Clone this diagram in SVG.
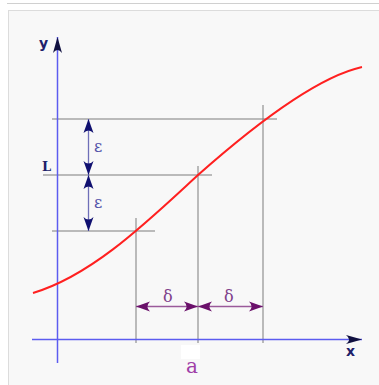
<svg xmlns="http://www.w3.org/2000/svg" width="379" height="385" viewBox="0 0 379 385">
<style>
.grid{stroke:#7c7c7c;stroke-width:1;fill:none}
.axis{stroke:#5c5cf0;stroke-width:1.5;fill:none}
.eps{stroke:#6f6fb8;stroke-width:1.3;fill:none}
.del{stroke:#9a5a9a;stroke-width:1.3;fill:none}
.lbl{font-family:"DejaVu Sans",sans-serif;font-weight:bold;fill:#20206a}
.greek{font-family:"DejaVu Serif","Liberation Serif",serif;font-size:16px}
</style>
<defs>
<marker id="hNavy" markerUnits="userSpaceOnUse" markerWidth="16" markerHeight="12" viewBox="-14 -6 16 12" refX="0" refY="0" orient="auto-start-reverse">
<path d="M0,0 L-14,-5 Q-9,0 -14,5 Z" fill="#101070"/>
</marker>
<marker id="hPurple" markerUnits="userSpaceOnUse" markerWidth="16" markerHeight="12" viewBox="-14 -6 16 12" refX="0" refY="0" orient="auto-start-reverse">
<path d="M0,0 L-14,-5 Q-9,0 -14,5 Z" fill="#6a106a"/>
</marker>
<marker id="hAxis" markerUnits="userSpaceOnUse" markerWidth="18" markerHeight="12" viewBox="-16 -6 18 12" refX="0" refY="0" orient="auto">
<path d="M0,0 L-16,-4.5 Q-10,0 -16,4.5 Z" fill="#101040"/>
</marker>
</defs>
<rect x="0" y="0" width="379" height="385" fill="#ffffff"/>
<line x1="7" y1="3.5" x2="379" y2="3.5" stroke="#d0d0d0" stroke-width="1"/>
<rect x="8.5" y="10.5" width="375" height="380" fill="#f8f8f8" stroke="#dcdcdc" stroke-width="1"/>
<rect x="181" y="345" width="19" height="14" fill="#ffffff"/>
<g id="connectors">
<line class="grid" x1="52" y1="119" x2="277" y2="119"/>
<line class="grid" x1="43" y1="175" x2="212" y2="175"/>
<line class="grid" x1="52" y1="231" x2="155" y2="231"/>
<line class="grid" x1="136" y1="218" x2="136" y2="343"/>
<line class="grid" x1="198" y1="166" x2="198" y2="343"/>
<line class="grid" x1="263" y1="105" x2="263" y2="343"/>
<line class="axis" x1="57.5" y1="363" x2="57.5" y2="37" marker-end="url(#hAxis)"/>
<line class="axis" x1="32" y1="339.5" x2="362" y2="339.5" marker-end="url(#hAxis)"/>
<line class="eps" x1="88.5" y1="119" x2="88.5" y2="175" marker-start="url(#hNavy)" marker-end="url(#hNavy)"/>
<line class="eps" x1="88.5" y1="175" x2="88.5" y2="231" marker-start="url(#hNavy)" marker-end="url(#hNavy)"/>
<line class="del" x1="136" y1="306.5" x2="198" y2="306.5" marker-start="url(#hPurple)" marker-end="url(#hPurple)"/>
<line class="del" x1="198" y1="306.5" x2="263" y2="306.5" marker-start="url(#hPurple)" marker-end="url(#hPurple)"/>
<path d="M33,293 C93,275 148,221 198,175 C268,113 322,76 362,67" fill="none" stroke="#ff2020" stroke-width="2"/>
</g>
<g id="label-y"><text class="lbl" x="39" y="48" font-size="14">y</text></g>
<g id="label-x"><text class="lbl" x="346" y="356" font-size="14">x</text></g>
<g id="label-L"><text x="42" y="171" font-family="DejaVu Serif,serif" font-weight="bold" font-size="13" fill="#20206a">L</text></g>
<g id="label-eps1"><text class="greek" x="94" y="152" fill="#5050a8">ε</text></g>
<g id="label-eps2"><text class="greek" x="94" y="208" fill="#5050a8">ε</text></g>
<g id="label-del1"><text class="greek" x="163" y="302" fill="#80408a">δ</text></g>
<g id="label-del2"><text class="greek" x="224" y="302" fill="#80408a">δ</text></g>
<g id="label-a"><text x="186" y="373" font-family="DejaVu Serif,serif" font-size="20" fill="#a040a8">a</text></g>
</svg>
